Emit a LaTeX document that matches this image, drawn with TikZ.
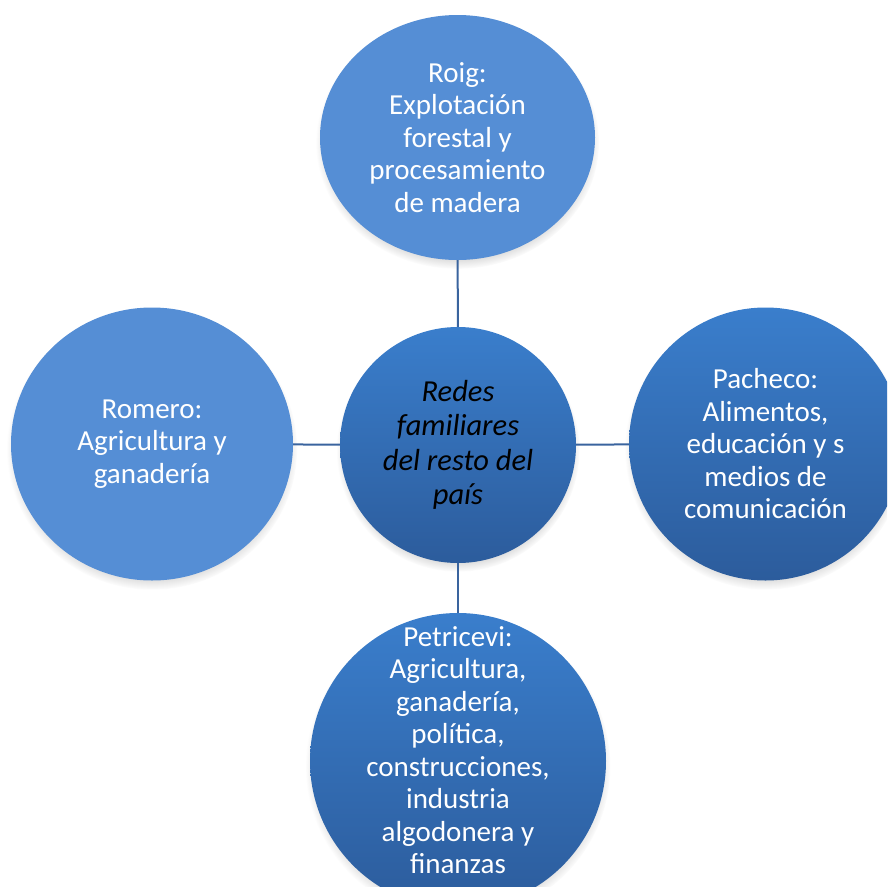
\documentclass[tikz,border=0pt]{standalone}
\usepackage{fontspec}
\setmainfont{Carlito}
\usepackage{xcolor}
\usepackage{tikz}
\usetikzlibrary{shapes.geometric, shadows, fadings}
\definecolor{softblue}{RGB}{85, 142, 213}
\definecolor{deeptop}{RGB}{58, 126, 204}
\definecolor{deepbot}{RGB}{44, 92, 156}
\definecolor{linkblue}{RGB}{58, 100, 158}

\begin{document}
\begin{tikzpicture}[x=1pt, y=-1pt,
    bubble/.style={ellipse, inner sep=0pt, draw=none,
        circular drop shadow={shadow xshift=0pt, shadow yshift=-5pt, shadow scale=1.03, opacity=0.5}},
    flatbubble/.style={bubble, fill=softblue},
    shadebubble/.style={bubble, top color=deeptop, bottom color=deepbot},
    whitetxt/.style={align=center, text=white, font=\fontsize{29}{32.5}\selectfont},
    hubtxt/.style={align=center, text=black, font=\fontsize{30.5}{34.5}\selectfont\itshape},
    link/.style={linkblue, line width=2pt}]
    \clip (0,0) rectangle (887,887);

    % Outer Families
    \node[flatbubble, minimum width=275, minimum height=245] (roig) at (457.5,137.5) {};
    \node[flatbubble, minimum width=282, minimum height=273] (romero) at (152,444) {};
    \node[shadebubble, minimum width=273, minimum height=273] (pacheco) at (765.5,444) {};
    \node[shadebubble, minimum width=296, minimum height=296] (petricevi) at (458,761) {};

    % Central Hub
    \node[shadebubble, minimum width=236, minimum height=236] (hub) at (458,445) {};

    % Links
    \draw[link] (hub) -- (roig);
    \draw[link] (hub) -- (romero);
    \draw[link] (hub) -- (pacheco);
    \draw[link] (hub) -- (petricevi);

    % Labels
    \node[hubtxt] (hubtxt) at (hub) {Redes\\familiares\\del resto del\\país};
    \node[whitetxt] (roigtxt) at (roig) {Roig:\\Explotación\\forestal y\\procesamiento\\de madera};
    \node[whitetxt] (romerotxt) at (romero) {Romero:\\Agricultura y\\ganadería};
    \node[whitetxt] (pachecotxt) at (pacheco) {Pacheco:\\Alimentos,\\educación y s\\medios de\\comunicación};
    \node[whitetxt] (petricevitxt) at (458,750) {Petricevi:\\Agricultura,\\ganadería,\\política,\\construcciones,\\industria\\algodonera y\\finanzas};
\end{tikzpicture}
\end{document}
